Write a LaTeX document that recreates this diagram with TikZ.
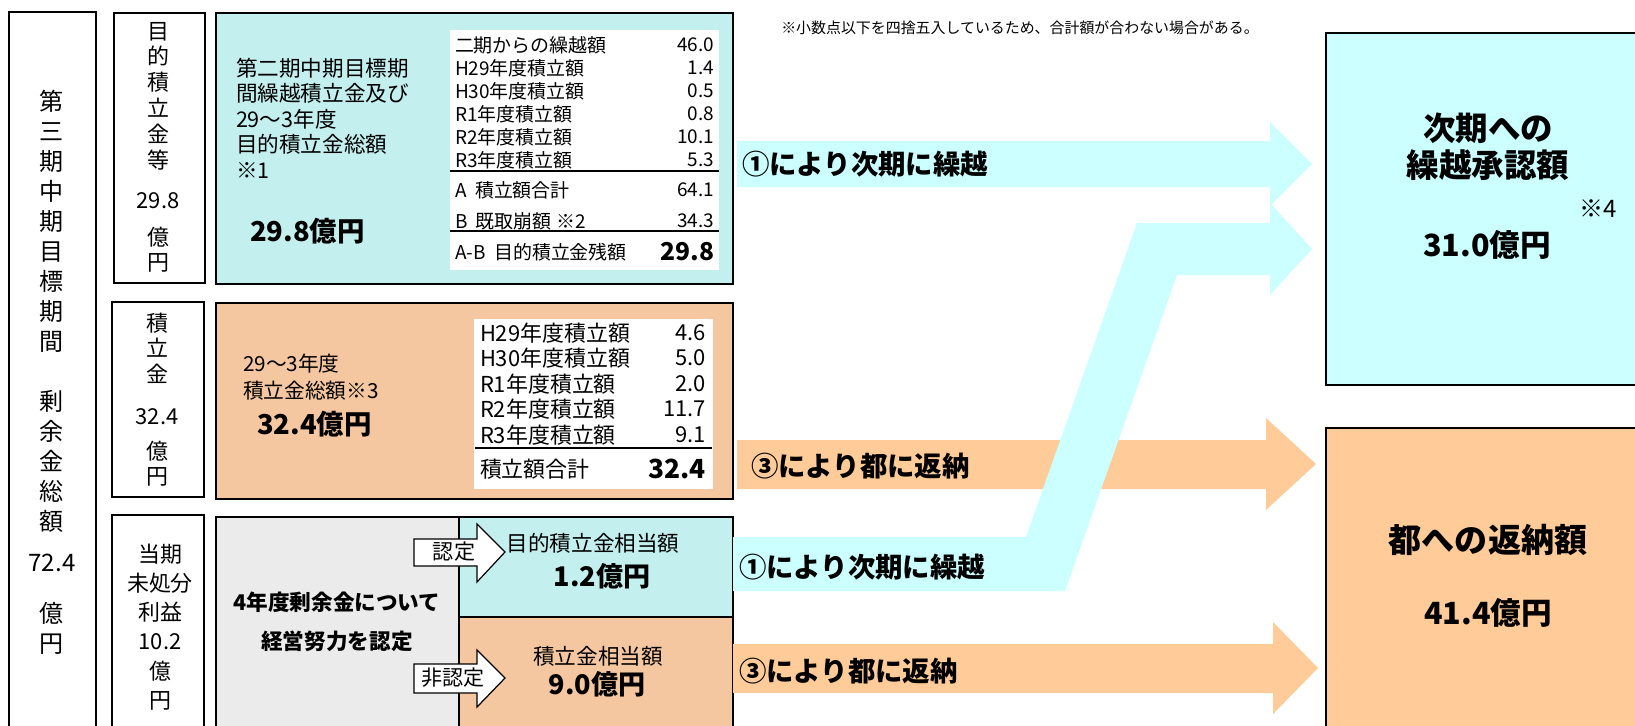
\documentclass[tikz,border=0pt]{standalone}
\usepackage{fontspec}
\setmainfont{Noto Sans CJK JP}

\definecolor{arrowcyan}{HTML}{CCFFFF}
\definecolor{arroworange}{HTML}{FFCC99}
\definecolor{dotcyan}{HTML}{C4EFEF}
\definecolor{dotorange}{HTML}{F5C7A0}
\definecolor{dotgray}{HTML}{EBEBEB}

\newcommand{\fsz}[2]{\fontsize{#1}{#2}\selectfont}

\tikzset{
  thinbox/.style={draw=black, line width=0.8pt},
  thickbox/.style={draw=black, line width=1.6pt},
  txt/.style={inner sep=0pt, outer sep=0pt},
  vtext/.style={txt, align=center},
  rowlbl/.style={txt, anchor=west},
  rowval/.style={txt, anchor=east},
  arrowlbl/.style={txt, anchor=west, font=\bfseries\fsz{15.6}{18}},
  smallarrow/.style={draw=black, line width=0.7pt, fill=white},
}

\begin{document}
\begin{tikzpicture}[x=0.02cm, y=-0.02cm]
            \useasboundingbox (0,0) rectangle (1635,725);
            \clip (0,0) rectangle (1635,725);

            % left columns
            \draw[thinbox] (9,12) rectangle (96,760);
            \node[vtext, anchor=north, font=\fsz{13.7}{17.1}] (total) at (52,90)
                {第\\三\\期\\中\\期\\目\\標\\期\\間\\[17.1pt]剰\\余\\金\\総\\額\\[5.7pt]72.4\\[12pt]億\\円};

            \draw[thinbox] (114,13) rectangle (205,283);
            \node[vtext, anchor=north, font=\fsz{12.5}{14.7}] (mokuteki) at (158,22)
                {目\\的\\積\\立\\金\\等\\[8pt]29.8\\[6.3pt]億\\円};
            \draw[thinbox] (112,302) rectangle (204,497);
            \node[vtext, anchor=north, font=\fsz{12.5}{14.5}] (tsumitate) at (157,313)
                {積\\立\\金\\[9.7pt]32.4\\[5pt]億\\円};
            \draw[thinbox] (112,515) rectangle (204,760);
            \node[vtext, anchor=north, font=\fsz{12.5}{16.6}] (touki) at (160,544)
                {当期\\未処分\\利益\\10.2\\億\\円};

            % purpose reserve box
            \draw[thickbox, fill=dotcyan] (216,13) rectangle (733,284);
            \node[txt, anchor=north west, align=left, font=\fsz{12.3}{14.5}] (blueLbl) at (236,58)
                {第二期中期目標期\\間繰越積立金及び\\29〜3年度\\目的積立金総額\\※1};
            \node[txt, anchor=west, font=\bfseries\fsz{15.6}{18}] (blueSum) at (250,231) {29.8億円};
            \fill[white] (450,30) rectangle (719,270);
            \node[rowlbl, font=\fsz{10.8}{13}] (b1) at (455,45) {二期からの繰越額};
            \node[rowval, font=\fsz{10.8}{13}] (b1v) at (714,45) {46.0};
            \node[rowlbl, font=\fsz{10.8}{13}] (b2) at (455,68) {H29年度積立額};
            \node[rowval, font=\fsz{10.8}{13}] (b2v) at (714,68) {1.4};
            \node[rowlbl, font=\fsz{10.8}{13}] (b3) at (455,91) {H30年度積立額};
            \node[rowval, font=\fsz{10.8}{13}] (b3v) at (714,91) {0.5};
            \node[rowlbl, font=\fsz{10.8}{13}] (b4) at (455,114) {R1年度積立額};
            \node[rowval, font=\fsz{10.8}{13}] (b4v) at (714,114) {0.8};
            \node[rowlbl, font=\fsz{10.8}{13}] (b5) at (455,137) {R2年度積立額};
            \node[rowval, font=\fsz{10.8}{13}] (b5v) at (714,137) {10.1};
            \node[rowlbl, font=\fsz{10.8}{13}] (b6) at (455,160) {R3年度積立額};
            \node[rowval, font=\fsz{10.8}{13}] (b6v) at (714,160) {5.3};
            \draw[line width=0.7pt] (450,171) -- (719,171);
            \node[rowlbl, font=\fsz{10.8}{13}] (bA) at (455,190) {A\ \ 積立額合計};
            \node[rowval, font=\fsz{10.8}{13}] (bAv) at (714,190) {64.1};
            \node[rowlbl, font=\fsz{10.8}{13}] (bB) at (455,221) {B\ \ 既取崩額 ※2};
            \node[rowval, font=\fsz{10.8}{13}] (bBv) at (714,221) {34.3};
            \draw[line width=0.7pt] (450,231) -- (719,231);
            \node[rowlbl, font=\fsz{10.8}{13}] (bAB) at (455,252) {A-B\ \ 目的積立金残額};
            \node[rowval, font=\bfseries\fsz{14}{16}] (bABv) at (714,252) {29.8};

            % reserve box
            \draw[thickbox, fill=dotorange] (216,303) rectangle (733,499);
            \node[txt, anchor=north west, align=left, font=\fsz{11.8}{15.4}] (orangeLbl) at (243,354)
                {29〜3年度\\積立金総額※3};
            \node[txt, anchor=west, font=\bfseries\fsz{15.6}{18}] (orangeSum) at (257,424) {32.4億円};
            \fill[white] (474,319) rectangle (713,489);
            \node[rowlbl, font=\fsz{12.5}{14}] (o1) at (480,333) {H29年度積立額};
            \node[rowval, font=\fsz{12.5}{14}] (o1v) at (706,333) {4.6};
            \node[rowlbl, font=\fsz{12.5}{14}] (o2) at (480,358) {H30年度積立額};
            \node[rowval, font=\fsz{12.5}{14}] (o2v) at (706,358) {5.0};
            \node[rowlbl, font=\fsz{12.5}{14}] (o3) at (480,384) {R1年度積立額};
            \node[rowval, font=\fsz{12.5}{14}] (o3v) at (706,384) {2.0};
            \node[rowlbl, font=\fsz{12.5}{14}] (o4) at (480,409) {R2年度積立額};
            \node[rowval, font=\fsz{12.5}{14}] (o4v) at (706,409) {11.7};
            \node[rowlbl, font=\fsz{12.5}{14}] (o5) at (480,435) {R3年度積立額};
            \node[rowval, font=\fsz{12.5}{14}] (o5v) at (706,435) {9.1};
            \draw[line width=1.2pt] (475,448) -- (712,448);
            \node[rowlbl, font=\fsz{12.5}{14}] (oSum) at (480,469) {積立額合計};
            \node[rowval, font=\bfseries\fsz{15}{17}] (oSumv) at (706,469) {32.4};

            % current year profit box
            \fill[dotgray] (216,517) rectangle (459,760);
            \fill[dotcyan] (459,517) rectangle (733,617);
            \fill[dotorange] (459,617) rectangle (733,760);
            \draw[line width=1.1pt] (459,517) -- (459,760);
            \draw[line width=1.1pt] (459,617) -- (733,617);
            \draw[thickbox] (216,517) rectangle (733,760);
            \node[txt, align=center, font=\bfseries\fsz{12.3}{22.2}] (effort) at (337,622)
                {4年度剰余金について\\経営努力を認定};
            \draw[smallarrow] (414,539) -- (477,539) -- (477,524) -- (505,552) -- (477,582) -- (477,566) -- (414,566) -- cycle;
            \node[txt, font=\fsz{12}{14}] (nintei) at (454,552) {認定};
            \draw[smallarrow] (414,664) -- (477,664) -- (477,650) -- (505,678) -- (477,707) -- (477,693) -- (414,693) -- cycle;
            \node[txt, font=\fsz{12}{14}] (hinintei) at (453,678) {非認定};
            \node[txt, font=\fsz{12.3}{14}] (mokutekiEq) at (593,543) {目的積立金相当額};
            \node[txt, font=\bfseries\fsz{15.4}{18}] (mokutekiAmt) at (602,576) {1.2億円};
            \node[txt, font=\fsz{12.3}{14}] (tsumitateEq) at (598,656) {積立金相当額};
            \node[txt, font=\bfseries\fsz{15.4}{18}] (tsumitateAmt) at (597,684) {9.0億円};

            % block arrows
            \fill[arroworange] (737,440) -- (1266,440) -- (1266,418) -- (1316,464) -- (1266,510) -- (1266,489) -- (737,489) -- cycle;
            \fill[arrowcyan] (737,141) -- (1270,141) -- (1270,122) -- (1312,164) -- (1270,206) -- (1270,187) -- (737,187) -- cycle;
            \fill[arrowcyan] (733,537) -- (1026,537) -- (1137,223) -- (1270,223) -- (1270,203) -- (1312,249)
                -- (1270,295) -- (1270,275) -- (1177,275) -- (1065,591) -- (733,591) -- cycle;
            \fill[arroworange] (733,644) -- (1273,644) -- (1273,622) -- (1318,668) -- (1273,714) -- (1273,693) -- (733,693) -- cycle;
            \node[arrowlbl] (carry1) at (742,164) {①により次期に繰越};
            \node[arrowlbl] (return1) at (751,466) {③により都に返納};
            \node[arrowlbl] (carry2) at (739,567) {①により次期に繰越};
            \node[arrowlbl] (return2) at (739,671) {③により都に返納};

            % result boxes
            \node[txt, font=\fsz{8.5}{10}] (roundNote) at (1020,28) {※小数点以下を四捨五入しているため、合計額が合わない場合がある。};
            \draw[thickbox, fill=arrowcyan] (1326,33) rectangle (1660,385);
            \node[txt, align=center, font=\bfseries\fsz{18.5}{21}] (nextTitle) at (1488,147) {次期への\\繰越承認額};
            \node[txt, font=\fsz{13.7}{16}] (note4) at (1598,209) {※4};
            \node[txt, font=\bfseries\fsz{17.4}{20}] (nextAmt) at (1487,245) {31.0億円};
            \draw[thickbox, fill=arroworange] (1326,428) rectangle (1660,760);
            \node[txt, font=\bfseries\fsz{18.8}{22}] (returnTitle) at (1488,540) {都への返納額};
            \node[txt, font=\bfseries\fsz{17.4}{20}] (returnAmt) at (1488,613) {41.4億円};
        \end{tikzpicture}
\end{document}
